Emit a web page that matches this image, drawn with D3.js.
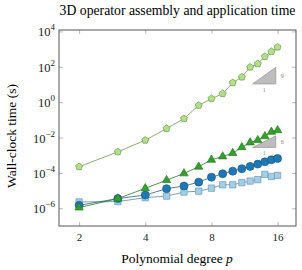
<!DOCTYPE html>
<html>
<head>
<meta charset="utf-8">
<script src="https://cdn.jsdelivr.net/npm/d3@7"></script>
<style>
  body { margin: 0; background: #fff; }
</style>
</head>
<body>
<div id="chart"></div>
<script>
// polynomial degrees and log10 of wall-clock time for each series
const degrees = [2, 3, 4, 5, 6, 7, 8, 9, 10, 11, 12, 13, 14, 15, 16]
const assemblyLog = [-3.65, -2.81, -2.15, -1.49, -0.93, -0.18, 0.20, 0.48, 1.10, 1.42, 1.98, 2.17, 2.58, 2.86, 3.11]
const triangleLog = [-5.96, -5.45, -4.87, -4.41, -4.03, -3.65, -3.26, -3.07, -2.88, -2.55, -2.28, -2.15, -1.93, -1.68, -1.59]
const circleLog = [-5.83, -5.45, -5.25, -4.89, -4.74, -4.52, -4.24, -4.05, -3.90, -3.76, -3.63, -3.50, -3.37, -3.26, -3.18]
const squareLog = [-5.64, -5.62, -5.40, -5.31, -5.08, -5.03, -4.86, -4.67, -4.67, -4.55, -4.46, -4.38, -4.08, -4.20, -4.14]
const xTicks = [2, 4, 8, 16]
const yTickExp = [4, 2, 0, -2, -4, -6]
// slope triangles: label and log10 top/bottom
const slopes = [
  {label: '9', top: 1.97, bottom: 1.03},
  {label: '6', top: -1.90, bottom: -2.56}
]

const width = 302, height = 270
const margin = {left: 59, right: 6, top: 30, bottom: 44}
const serif = '"Liberation Serif", "Times New Roman", "DejaVu Serif", serif'

const svg = d3.select('#chart').append('svg')
  .attr('width', width)
  .attr('height', height)
  .attr('font-family', serif)
  .style('font-family', serif)

const x = d3.scaleLog().base(2)
  .domain([1.62, 19.4])
  .range([margin.left, width - margin.right])
const y = d3.scaleLog()
  .domain([1e-7, Math.pow(10, 4.08)])
  .range([height - margin.bottom, margin.top])

const plotW = width - margin.left - margin.right
const plotH = height - margin.top - margin.bottom

// title, sized so it spans the same width as the plot frame
const title = svg.append('text')
  .attr('x', 177.5).attr('y', 15)
  .attr('text-anchor', 'middle')
  .style('font-size', '13px')
  .text('3D operator assembly and application time')
const tw = title.node().getComputedTextLength()
title.style('font-size', (13 * 236 / tw) + 'px')

// axes with inward ticks on all sides
const tickColor = '#bbb'
svg.append('g')
  .attr('transform', `translate(0,${height - margin.bottom})`)
  .call(d3.axisBottom(x).tickValues(xTicks).tickSizeInner(-4).tickSizeOuter(0).tickPadding(7).tickFormat(d3.format('d')))
  .call(g => g.attr('font-family', serif))
  .call(g => g.select('.domain').remove())
  .call(g => g.selectAll('line').attr('stroke', tickColor))
  .call(g => g.selectAll('text').style('font-size', '11px').attr('fill', '#222'))

svg.append('g')
  .attr('transform', `translate(0,${margin.top})`)
  .call(d3.axisTop(x).tickValues(xTicks).tickSizeInner(-4).tickSizeOuter(0).tickFormat(''))
  .call(g => g.select('.domain').remove())
  .call(g => g.selectAll('line').attr('stroke', tickColor))

svg.append('g')
  .attr('transform', `translate(${margin.left},0)`)
  .call(d3.axisLeft(y).tickValues(yTickExp.map(e => Math.pow(10, e))).tickSizeInner(-4).tickSizeOuter(0).tickFormat(''))
  .call(g => g.select('.domain').remove())
  .call(g => g.selectAll('line').attr('stroke', tickColor))

svg.append('g')
  .attr('transform', `translate(${width - margin.right},0)`)
  .call(d3.axisRight(y).tickValues(yTickExp.map(e => Math.pow(10, e))).tickSizeInner(-4).tickSizeOuter(0).tickFormat(''))
  .call(g => g.select('.domain').remove())
  .call(g => g.selectAll('line').attr('stroke', tickColor))

// y tick labels 10^e
yTickExp.forEach(e => {
  const t = svg.append('text')
    .attr('x', margin.left - 4)
    .attr('y', y(Math.pow(10, e)) + 5)
    .attr('text-anchor', 'end')
    .attr('fill', '#222')
    .style('font-size', '12.5px')
  t.append('tspan').text('10')
  t.append('tspan').attr('dy', -6).style('font-size', '9px')
    .text(e < 0 ? '\u2212' + (-e) : e)
})

// frame
svg.append('rect')
  .attr('x', margin.left).attr('y', margin.top)
  .attr('width', plotW).attr('height', plotH)
  .attr('fill', 'none')
  .attr('stroke', '#555')
  .attr('stroke-width', 1)

// axis labels
svg.append('text')
  .attr('x', 177).attr('y', 263)
  .attr('text-anchor', 'middle')
  .style('font-size', '13.5px')
  .html('Polynomial degree <tspan font-style="italic">p</tspan>')

svg.append('text')
  .attr('transform', 'translate(16,136) rotate(-90)')
  .attr('text-anchor', 'middle')
  .style('font-size', '13.5px')
  .text('Wall-clock time (s)')

// slope triangles
const tx0 = 12.3, tx1 = 15.7
slopes.forEach(s => {
  svg.append('path')
    .attr('d', `M${x(tx0)},${y(Math.pow(10, s.bottom))}L${x(tx1)},${y(Math.pow(10, s.bottom))}L${x(tx1)},${y(Math.pow(10, s.top))}Z`)
    .attr('fill', '#bdbdbd')
    .attr('stroke', '#8a8a8a')
    .attr('stroke-width', 0.6)
  svg.append('text')
    .attr('x', x(tx1) + 5).attr('y', y(Math.pow(10, (s.top + s.bottom) / 2)) + 2)
    .attr('fill', '#888').style('font-size', '6px')
    .text(s.label)
  svg.append('text')
    .attr('x', (x(tx0) + x(tx1)) / 2).attr('y', y(Math.pow(10, s.bottom)) + 8)
    .attr('text-anchor', 'middle')
    .attr('fill', '#888').style('font-size', '6px')
    .text('1')
})

const line = d3.line().x(d => x(d[0])).y(d => y(Math.pow(10, d[1])))

function drawSeries(vals, lineColor, fill, stroke, shape, size) {
  const pts = degrees.map((p, i) => [p, vals[i]])
  svg.append('path')
    .datum(pts)
    .attr('d', line)
    .attr('fill', 'none')
    .attr('stroke', lineColor)
    .attr('stroke-width', 0.8)
  svg.selectAll(null).data(pts).enter().append('path')
    .attr('transform', d => `translate(${x(d[0])},${y(Math.pow(10, d[1]))})`)
    .attr('d', d3.symbol().type(shape).size(size))
    .attr('fill', fill)
    .attr('stroke', stroke)
    .attr('stroke-width', 0.7)
}

const pentagon = {
  draw(ctx, size) {
    const r = Math.sqrt(size / 2.38)
    for (let i = 0; i < 5; i++) {
      const a = -Math.PI / 2 + i * 2 * Math.PI / 5
      if (i === 0) ctx.moveTo(r * Math.cos(a), r * Math.sin(a))
      else ctx.lineTo(r * Math.cos(a), r * Math.sin(a))
    }
    ctx.closePath()
  }
}

drawSeries(squareLog, '#5b86a8', '#a6cee3', '#6a9ab8', d3.symbolSquare, 40)
drawSeries(circleLog, '#2a5f8a', '#1f78b4', '#1a5a88', d3.symbolCircle, 50)
drawSeries(triangleLog, '#2a7a22', '#33a02c', '#2a7a22', d3.symbolTriangle, 30)
drawSeries(assemblyLog, '#6e9a50', '#b2df8a', '#6e9a50', pentagon, 32)
</script>
</body>
</html>
